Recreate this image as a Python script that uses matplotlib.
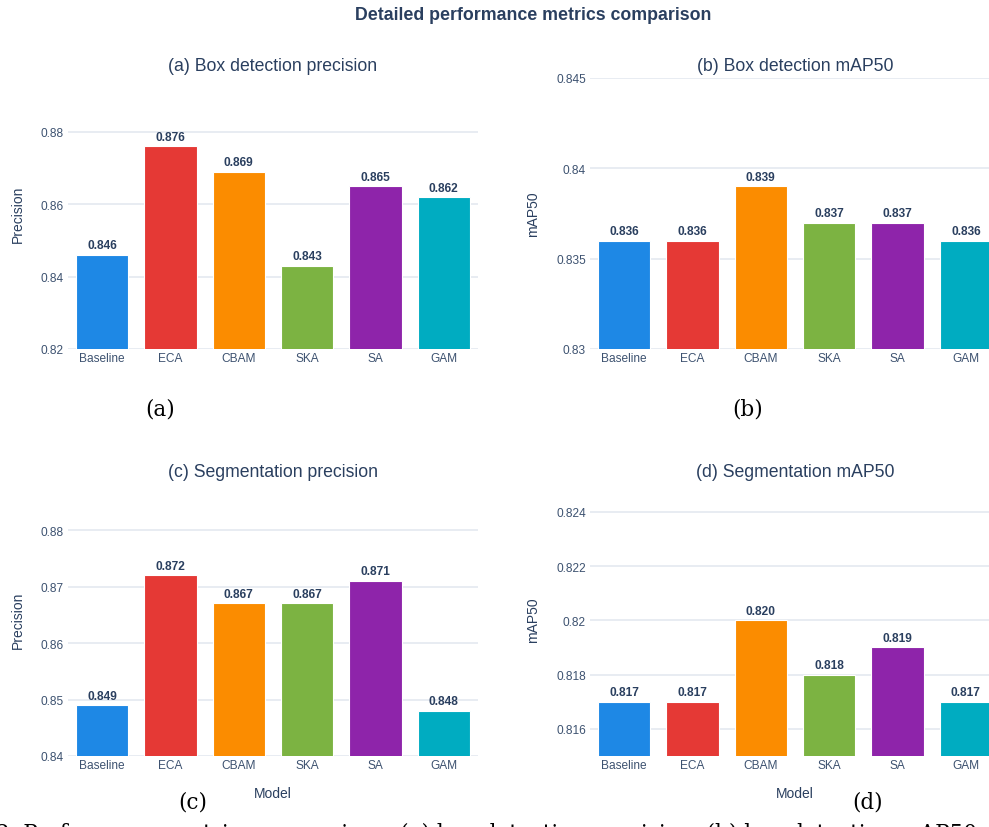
import numpy as np
import matplotlib.pyplot as plt
from matplotlib.ticker import FuncFormatter

models = ["Baseline", "ECA", "CBAM", "SKA", "SA", "GAM"]
colors = ["#1E88E5", "#E53935", "#FB8C00", "#7CB342", "#8E24AA", "#00ACC1"]

box_precision = [0.846, 0.876, 0.869, 0.843, 0.865, 0.862]
box_map50 = [0.836, 0.836, 0.839, 0.837, 0.837, 0.836]
seg_precision = [0.849, 0.872, 0.867, 0.867, 0.871, 0.848]
seg_map50 = [0.817, 0.817, 0.820, 0.818, 0.819, 0.817]

titles = ["(a) Box detection precision", "(b) Box detection mAP50",
          "(c) Segmentation precision", "(d) Segmentation mAP50"]
ylabels = ["Precision", "mAP50", "Precision", "mAP50"]
ylims = [(0.82, 0.8949), (0.83, 0.845), (0.84, 0.8885), (0.815, 0.8251)]
yticks = [[0.82, 0.84, 0.86, 0.88],
          [0.83, 0.835, 0.84, 0.845],
          [0.84, 0.85, 0.86, 0.87, 0.88],
          [0.816, 0.818, 0.82, 0.822, 0.824]]
letters = ["(a)", "(b)", "(c)", "(d)"]

W, H = 989, 828
TXT = "#2a3f5f"
TICK = "#3d5270"
plt.rcParams["font.family"] = ["Liberation Sans", "DejaVu Sans"]


def box(l, t, r, b):
    return [l / W, 1 - b / H, (r - l) / W, (b - t) / H]


fig = plt.figure(figsize=(W / 100, H / 100), dpi=100)

# pixel boxes of the four panels (right ones run past the page edge)
rects = [box(68, 79, 478, 350), box(590, 79, 1000, 350),
         box(68, 483, 478, 757), box(590, 483, 1000, 757)]
data = [box_precision, box_map50, seg_precision, seg_map50]
ylab_x = [-0.105, -0.122, -0.105, -0.122]
title_pad = [6, 6, 4, 4]
letter_pos = [(160, 410), (748, 410), (193, 803), (868, 803)]

for i in range(4):
    ax = fig.add_axes(rects[i])
    x = np.arange(len(models))
    bars = ax.bar(x, data[i], width=0.77, color=colors, edgecolor="white",
                  linewidth=0.8, zorder=3)
    for b, v in zip(bars, data[i]):
        ax.annotate("%.3f" % v, (b.get_x() + b.get_width() / 2, v),
                    xytext=(0, 2.5), textcoords="offset points",
                    ha="center", va="bottom", fontsize=8.6,
                    fontweight="bold", color=TXT, zorder=4)
    ax.set_xlim(-0.5, 5.5)
    ax.set_ylim(*ylims[i])
    ax.set_yticks(yticks[i])
    ax.yaxis.set_major_formatter(FuncFormatter(lambda v, p: "%g" % round(v, 4)))
    ax.set_xticks(x)
    ax.set_xticklabels(models)
    ax.tick_params(axis="both", length=0, labelsize=8.6, colors=TICK)
    ax.tick_params(axis="y", pad=3)
    ax.tick_params(axis="x", pad=2)
    ax.grid(axis="y", color="#E8ECF2", linewidth=1.4, zorder=0)
    for s in ax.spines.values():
        s.set_visible(False)
    ax.set_title(titles[i], fontsize=12.7, color=TXT, pad=title_pad[i])
    ax.set_ylabel(ylabels[i], fontsize=10, color=TXT)
    ax.yaxis.set_label_coords(ylab_x[i], 0.5)
    if i >= 2:
        ax.set_xlabel("Model", fontsize=10, color=TXT)
        ax.xaxis.set_label_coords(0.5, -0.109)
    lx, ly = letter_pos[i]
    fig.text(lx / W, 1 - ly / H, letters[i], family="DejaVu Serif",
             fontsize=15.5, ha="center", va="center", color="black")

fig.text(533 / W, 1 - 16 / H, "Detailed performance metrics comparison",
         fontsize=12.8, fontweight="bold", color=TXT, ha="center", va="center")

# figure caption, only its top edge shows at the bottom of the page
fig.text(-4 / W, 1 - 840 / H,
         "2. Performance metrics comparison: (a) box detection precision; "
         "(b) box detection mAP50; (c) segmentation precision; (d) segmentation mAP50.",
         family="DejaVu Serif", fontsize=15.5, ha="left", va="baseline",
         color="black")

fig.savefig("out.png", dpi=100)
